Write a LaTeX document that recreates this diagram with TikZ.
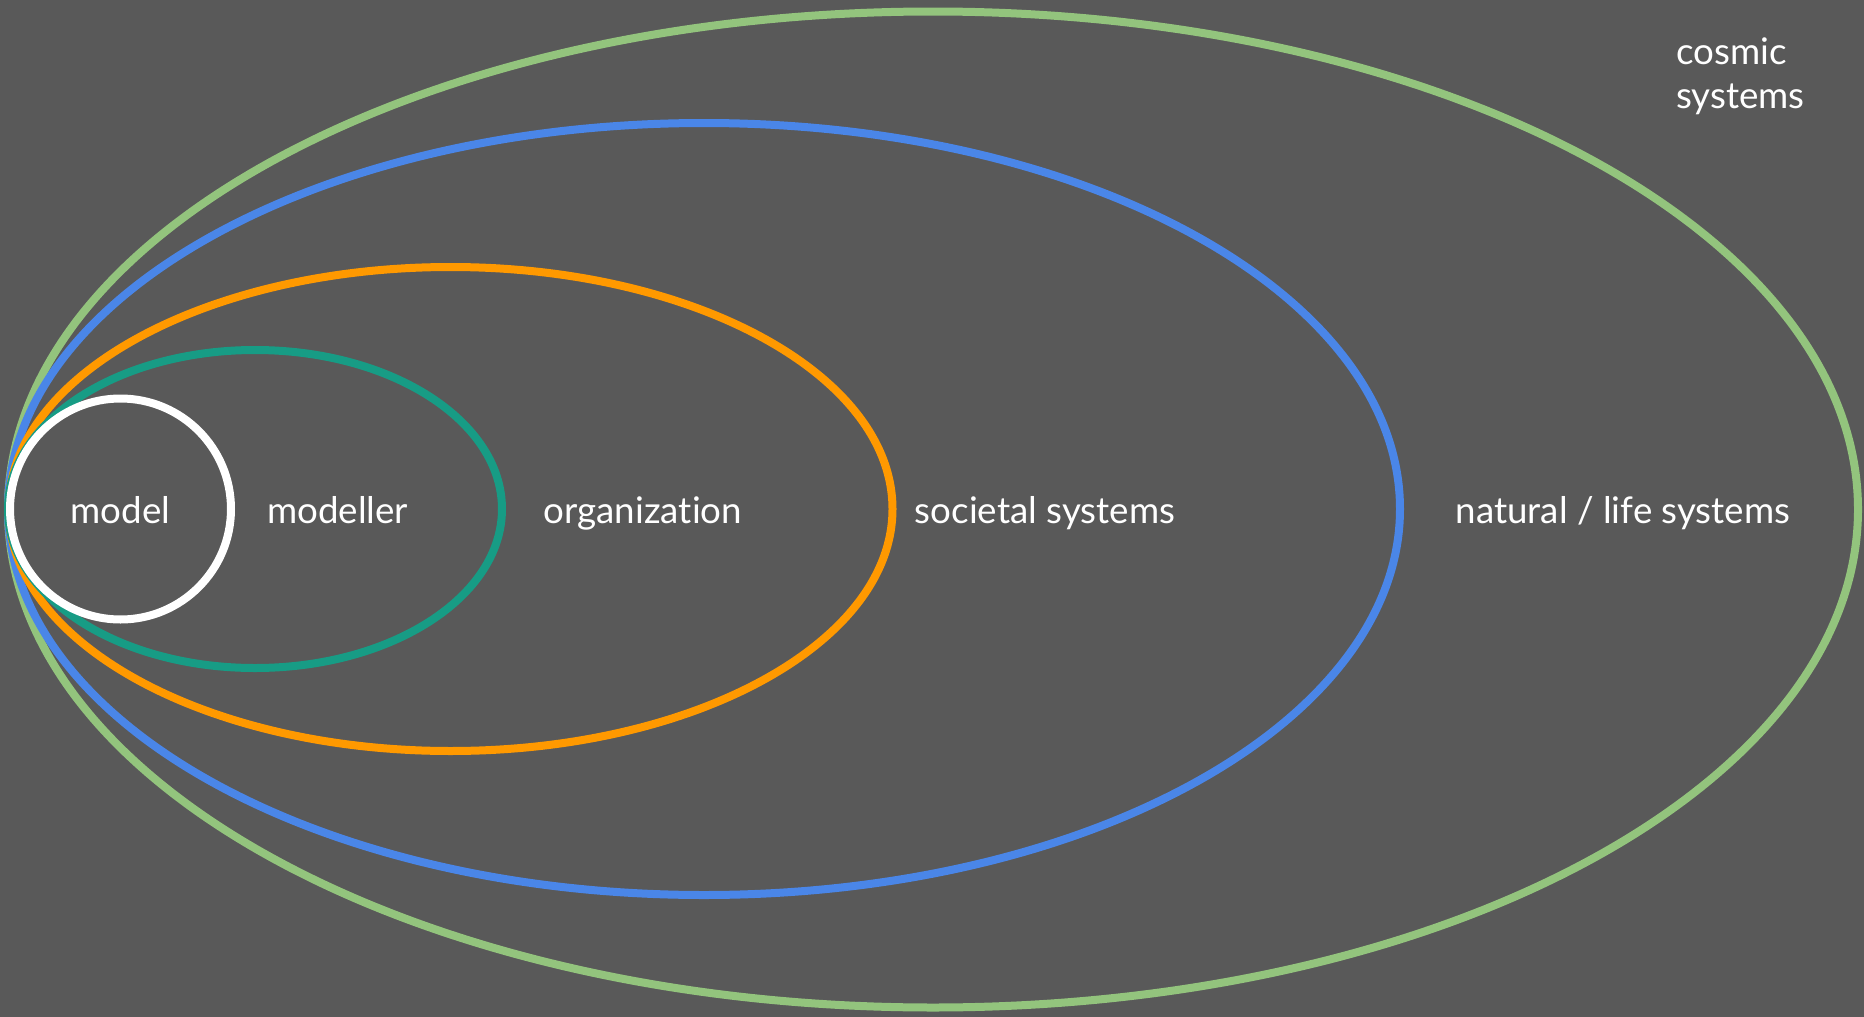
\documentclass[tikz,border=0pt]{standalone}
\usepackage{fontspec}
\setmainfont{Lato}[Ligatures={NoCommon}]
\usetikzlibrary{shapes.geometric}
\definecolor{bg}{HTML}{595959}
\definecolor{cgreen}{HTML}{93C47D}
\definecolor{cblue}{HTML}{4A86E8}
\definecolor{corange}{HTML}{FF9900}
\definecolor{cteal}{HTML}{179C85}
\tikzset{
  ring/.style={ellipse, draw=#1, line width=8pt, inner sep=0pt, outer sep=0pt},
  lbl/.style={text=white, font=\fontsize{36.7}{43.5}\selectfont, inner sep=0pt, anchor=base},
}
\begin{document}
\begin{tikzpicture}[x=1pt,y=-1pt]
\fill[bg] (0,0) rectangle (1864,1017);
\useasboundingbox (0,0) rectangle (1864,1017);
\node[ring=cgreen, minimum width=1850pt, minimum height=996pt] (cosmic) at (933,509.5) {};
\node[ring=cblue, minimum width=1392pt, minimum height=772pt] (natural) at (704,509) {};
\node[ring=corange, minimum width=884pt, minimum height=484pt] (societal) at (450.5,509) {};
\node[ring=cteal, minimum width=494pt, minimum height=318pt] (org) at (255,509) {};
\node[ring=white, circle, minimum size=221pt] (model) at (120.5,509) {};
\node[lbl] (tmodel) at (120.5,523) {model};
\node[lbl] (tmodeller) at (337.6,523) {modeller};
\node[lbl] (torg) at (643,523) {organization};
\node[lbl] (tsoc) at (1045,523) {societal systems};
\node[lbl] (tnat) at (1623,523) {natural / life systems};
\node[lbl, anchor=base west, align=left] (tcos) at (1676,108) {cosmic\\systems};
\end{tikzpicture}
\end{document}
